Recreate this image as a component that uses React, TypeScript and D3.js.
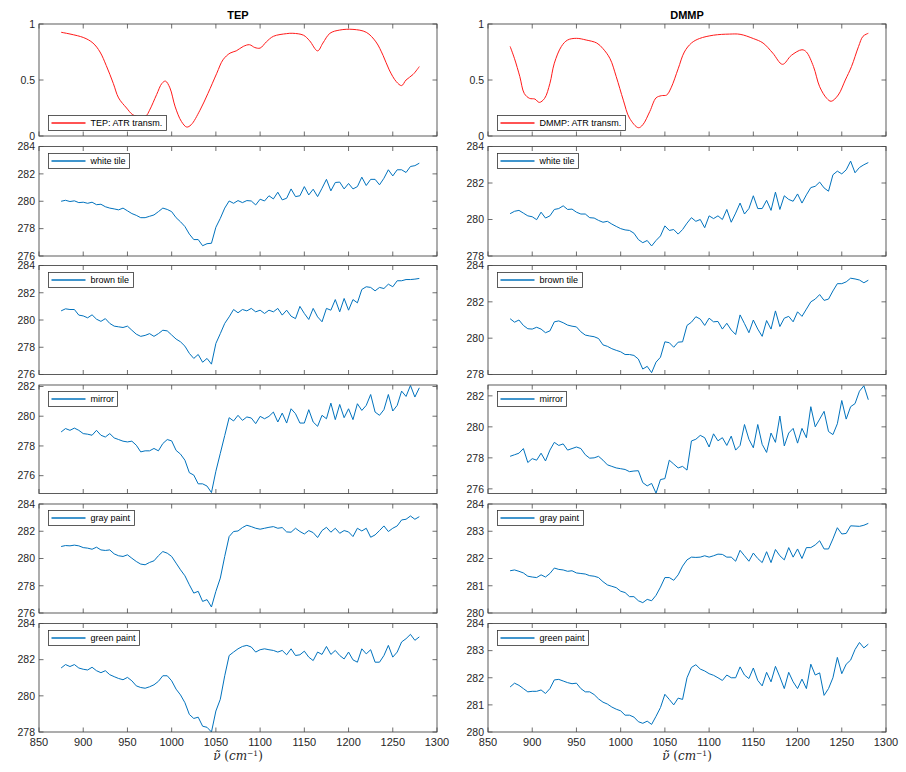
import React from 'react';
import * as d3 from 'd3';

// ---------- DATA ----------
const wavenumbers = d3.range(875, 1281, 5);

const tepAtrX = [875, 900, 911, 919, 926, 934, 940, 949, 956, 964, 971, 975, 983, 989, 993, 998, 1004, 1011, 1017, 1022, 1032, 1041, 1051, 1058, 1066, 1073, 1081, 1088, 1094, 1100, 1107, 1115, 1130, 1137, 1149, 1156, 1165, 1171, 1179, 1190, 1205, 1220, 1231, 1239, 1246, 1254, 1260, 1265, 1273, 1280];
const tepAtrY = [0.926, 0.88, 0.83, 0.75, 0.63, 0.47, 0.34, 0.25, 0.19, 0.17, 0.18, 0.23, 0.37, 0.47, 0.49, 0.43, 0.26, 0.13, 0.08, 0.1, 0.23, 0.38, 0.56, 0.68, 0.74, 0.76, 0.8, 0.815, 0.79, 0.785, 0.84, 0.89, 0.914, 0.917, 0.9, 0.85, 0.76, 0.83, 0.917, 0.946, 0.952, 0.926, 0.84, 0.72, 0.59, 0.485, 0.45, 0.5, 0.55, 0.62];

const dmmpAtrX = [875, 880, 886, 891, 897, 903, 908, 914, 920, 925, 933, 940, 950, 961, 973, 980, 988, 995, 1003, 1010, 1020, 1025, 1033, 1040, 1046, 1052, 1057, 1065, 1072, 1080, 1089, 1105, 1123, 1135, 1150, 1161, 1172, 1183, 1193, 1205, 1210, 1218, 1225, 1233, 1238, 1246, 1254, 1261, 1269, 1274, 1280];
const dmmpAtrY = [0.8, 0.69, 0.53, 0.38, 0.336, 0.33, 0.3, 0.336, 0.47, 0.65, 0.8, 0.857, 0.872, 0.857, 0.83, 0.78, 0.69, 0.53, 0.32, 0.16, 0.074, 0.1, 0.22, 0.34, 0.36, 0.366, 0.43, 0.6, 0.75, 0.83, 0.87, 0.9, 0.91, 0.908, 0.87, 0.83, 0.74, 0.64, 0.72, 0.77, 0.75, 0.62, 0.44, 0.336, 0.31, 0.366, 0.5, 0.62, 0.8, 0.89, 0.917];

const tepWhite = [280.0, 280.07, 279.98, 280.03, 279.9, 279.93, 279.85, 279.93, 279.75, 279.78,
  279.6, 279.5, 279.44, 279.37, 279.5, 279.3, 279.1, 278.97, 278.8, 278.8,
  278.9, 279.0, 279.24, 279.5, 279.4, 279.24, 278.8, 278.5, 278.15, 277.6,
  277.2, 277.2, 276.75, 276.9, 276.93, 278.1, 278.75, 279.5, 280.02, 279.85,
  280.05, 279.9, 280.05, 280.02, 279.73, 280.15, 280.02, 280.4, 280.17, 280.66,
  280.1, 280.22, 280.9, 280.34, 280.4, 281.07, 280.46, 280.88, 280.34, 280.95,
  281.6, 280.76, 281.37, 281.4, 280.9, 281.3, 280.9, 281.07, 281.76, 281.15,
  281.6, 281.6, 281.2, 281.68, 282.3, 281.85, 282.3, 282.3, 282.1, 282.54,
  282.6, 282.78];
const tepBrown = [280.67, 280.82, 280.77, 280.77, 280.36, 280.3, 280.16, 280.38, 280.06, 279.9,
  280.1, 279.75, 279.55, 279.5, 279.45, 279.55, 279.25, 278.96, 278.8, 278.87,
  279.0, 278.8, 279.0, 279.25, 279.2, 278.9, 278.6, 278.4, 278.08, 277.55,
  277.18, 277.47, 276.9, 277.18, 276.76, 278.28, 279.0, 279.75, 280.23, 280.77,
  280.53, 280.77, 280.67, 280.85, 280.6, 280.72, 280.48, 280.72, 280.6, 280.85,
  280.36, 280.72, 280.28, 280.1, 281.0, 280.48, 280.04, 280.85, 280.23, 279.87,
  280.85, 280.72, 281.5, 280.6, 281.58, 280.72, 281.5, 281.26, 282.24, 282.44,
  282.39, 282.14, 282.39, 282.31, 282.63, 282.44, 282.88, 282.88, 282.97, 282.97,
  283.0, 283.05];
const tepMirror = [278.94, 279.17, 279.05, 279.2, 279.05, 278.83, 278.79, 278.72, 279.05, 278.72,
  278.6, 278.83, 278.54, 278.43, 278.32, 278.27, 278.32, 278.05, 277.6, 277.67,
  277.67, 277.83, 277.67, 278.16, 278.43, 278.34, 277.7, 277.45, 277.04, 276.2,
  276.04, 275.45, 275.45, 275.3, 274.86, 276.3, 277.5, 278.7, 279.9, 279.68,
  280.06, 279.72, 279.95, 279.88, 279.5, 279.99, 279.83, 279.99, 280.28, 279.61,
  280.21, 279.54, 280.5, 280.17, 279.54, 279.54, 280.44, 279.61, 279.32, 280.06,
  279.83, 280.88, 279.77, 280.79, 279.9, 280.5, 279.77, 280.84, 280.39, 280.73,
  281.46, 280.28, 280.06, 280.44, 281.46, 280.35, 280.73, 281.69, 281.33, 282.07,
  281.29, 281.91];
const tepGray = [280.88, 280.95, 280.93, 280.98, 280.93, 280.8, 280.76, 280.68, 280.83, 280.63,
  280.59, 280.63, 280.34, 280.2, 280.15, 280.27, 280.02, 279.78, 279.59, 279.54,
  279.71, 279.83, 280.2, 280.51, 280.39, 280.15, 279.66, 279.17, 278.73, 278.07,
  277.46, 277.59, 276.85, 276.98, 276.44, 277.59, 278.56, 280.15, 281.61, 281.98,
  282.02, 282.27, 282.44, 282.34, 282.22, 282.15, 282.22, 282.29, 282.34, 282.22,
  282.27, 281.95, 281.93, 282.22, 281.98, 281.8, 282.05, 281.9, 281.54, 282.05,
  282.29, 281.93, 282.22, 281.85, 282.05, 281.95, 281.61, 282.22, 282.02, 282.22,
  281.56, 281.73, 282.05, 282.39, 281.98, 282.22, 282.39, 282.83, 282.88, 283.12,
  282.88, 283.07];
const tepGreen = [281.54, 281.73, 281.62, 281.73, 281.54, 281.47, 281.43, 281.58, 281.39, 281.28,
  281.39, 281.17, 281.06, 280.96, 280.89, 281.02, 280.83, 280.55, 280.46, 280.42,
  280.5, 280.61, 280.8, 281.11, 281.11, 280.83, 280.37, 280.05, 279.62, 278.97,
  278.75, 278.82, 278.32, 278.26, 278.0, 279.16, 279.81, 281.11, 282.23, 282.42,
  282.6, 282.73, 282.79, 282.7, 282.42, 282.55, 282.6, 282.55, 282.51, 282.42,
  282.51, 282.27, 282.6, 282.23, 282.27, 282.47, 282.14, 281.95, 282.42, 282.29,
  282.73, 282.29, 282.51, 282.23, 282.04, 282.42, 281.99, 281.86, 282.6, 282.32,
  282.55, 281.86, 281.86, 282.23, 282.79, 282.14, 282.42, 282.98, 283.16, 283.4,
  283.07, 283.26];

const dmmpWhite = [280.32, 280.45, 280.5, 280.35, 280.2, 280.15, 279.99, 280.4, 280.08, 280.2,
  280.55, 280.6, 280.75, 280.55, 280.57, 280.4, 280.3, 280.3, 280.1, 280.08,
  279.95, 279.85, 279.9, 279.75, 279.62, 279.5, 279.43, 279.4, 279.25, 278.9,
  278.73, 278.85, 278.55, 278.85, 279.1, 279.65, 279.4, 279.45, 279.2, 279.45,
  279.8, 280.1, 279.9, 280.0, 279.55, 280.2, 280.05, 280.2, 280.0, 280.55,
  279.85, 280.35, 280.9, 280.3, 280.6, 281.3, 280.6, 280.6, 281.05, 280.5,
  281.5, 280.55, 281.3, 281.1, 281.0, 281.4, 280.9, 281.35, 281.75, 281.82,
  282.05, 281.73, 281.55, 282.45, 282.65, 282.5, 282.72, 283.2, 282.56, 282.85,
  283.0, 283.12];
const dmmpBrown = [281.07, 280.88, 281.0, 280.7, 280.52, 280.5, 280.6, 280.5, 280.3, 280.4,
  280.9, 280.95, 280.85, 280.72, 280.66, 280.62, 280.35, 280.17, 280.12, 280.08,
  279.98, 279.63, 279.55, 279.42, 279.33, 279.25, 279.1, 279.1, 279.05, 278.85,
  278.3, 278.45, 278.1, 278.68, 278.95, 279.8, 279.75, 279.5, 279.78, 279.8,
  280.7, 280.88, 281.18, 281.05, 280.7, 281.1, 280.9, 280.92, 280.5, 280.82,
  280.45, 280.2, 281.28, 280.8, 280.3, 281.0, 280.5, 280.1, 280.97, 280.5,
  281.5, 280.64, 281.1, 281.2, 280.9, 281.45, 281.2, 281.6, 282.0, 282.15,
  282.4, 282.08, 282.15, 282.6, 283.0, 283.0, 283.1, 283.3, 283.26, 283.2,
  283.05, 283.19];
const dmmpMirror = [278.1, 278.2, 278.3, 278.6, 277.7, 277.95, 277.85, 278.3, 277.8, 278.5,
  279.0, 278.8, 278.9, 278.5, 278.6, 278.7, 278.6, 278.2, 277.98, 278.0,
  278.1, 277.85, 277.55, 277.45, 277.35, 277.3, 277.25, 277.11, 277.15, 277.17,
  276.4, 276.19, 276.35, 275.72, 276.6, 276.66, 277.85, 277.6, 277.35, 277.45,
  277.21, 279.09, 279.2, 279.45, 279.3, 278.7, 279.55, 279.1, 279.3, 278.8,
  279.4, 278.5, 278.8, 280.15, 279.2, 278.65, 280.15, 278.87, 278.35, 279.6,
  279.0, 280.7, 278.77, 279.6, 279.9, 278.95, 279.9, 279.3, 281.3, 280.0,
  280.5, 281.0, 279.7, 279.5, 280.2, 281.7, 280.5, 281.3, 281.5, 282.3,
  282.65, 281.75];
const dmmpGray = [281.55, 281.58, 281.53, 281.47, 281.35, 281.32, 281.3, 281.4, 281.32, 281.45,
  281.65, 281.6, 281.58, 281.53, 281.55, 281.47, 281.45, 281.43, 281.37, 281.35,
  281.3, 281.15, 281.03, 280.98, 280.93, 280.8, 280.75, 280.6, 280.6, 280.45,
  280.38, 280.5, 280.45, 280.65, 280.95, 281.3, 281.3, 281.2, 281.4, 281.72,
  281.95, 282.05, 282.04, 282.05, 282.1, 282.05, 282.1, 282.16, 282.15, 282.05,
  282.05, 281.9, 282.3, 282.1, 281.9, 282.2, 282.0, 281.85, 282.25, 281.85,
  282.33, 282.1, 281.95, 282.4, 282.05, 282.35, 282.0, 282.4, 282.4, 282.5,
  282.65, 282.35, 282.35, 282.72, 283.13, 282.9, 282.92, 283.2, 283.19, 283.18,
  283.22, 283.29];
const dmmpGreen = [281.66, 281.8, 281.72, 281.6, 281.48, 281.5, 281.5, 281.55, 281.42, 281.6,
  281.92, 281.94, 281.88, 281.82, 281.78, 281.8, 281.6, 281.48, 281.48, 281.38,
  281.22, 281.1, 281.03, 280.92, 280.84, 280.78, 280.62, 280.62, 280.55, 280.38,
  280.32, 280.4, 280.28, 280.58, 280.9, 281.39, 281.2, 281.0, 281.25, 281.2,
  282.0, 282.38, 282.48, 282.32, 282.25, 282.15, 282.09, 282.0, 281.9, 282.1,
  282.0, 282.0, 282.4, 282.1, 281.97, 282.36, 281.9, 281.7, 282.2, 281.85,
  282.42, 282.03, 281.6, 282.2, 281.85, 281.6, 281.95, 281.6, 282.5, 282.1,
  282.18, 281.35, 281.6, 282.0, 282.75, 282.15, 282.5, 282.65, 283.04, 283.3,
  283.1, 283.24];

const columnTitles = ['TEP', 'DMMP'];
const xTicks = [850, 900, 950, 1000, 1050, 1100, 1150, 1200, 1250, 1300];
const sampleLabels = ['white tile', 'brown tile', 'mirror', 'gray paint', 'green paint'];
const tepSeries = [tepWhite, tepBrown, tepMirror, tepGray, tepGreen];
const dmmpSeries = [dmmpWhite, dmmpBrown, dmmpMirror, dmmpGray, dmmpGreen];
const tepDomains: [number, number][] = [[0, 1], [276, 284], [276, 284], [274.8, 282.1], [276, 284], [278, 284]];
const dmmpDomains: [number, number][] = [[0, 1], [278, 284], [278, 284], [275.7, 282.7], [280, 284], [280, 284]];
const tepTicks = [[0, 0.5, 1], [276, 278, 280, 282, 284], [276, 278, 280, 282, 284], [276, 278, 280, 282], [276, 278, 280, 282, 284], [278, 280, 282, 284]];
const dmmpTicks = [[0, 0.5, 1], [278, 280, 282, 284], [278, 280, 282, 284], [276, 278, 280, 282], [280, 281, 282, 283, 284], [280, 281, 282, 283, 284]];

// ---------- LAYOUT ----------
const W = 906, H = 772;
const colX = [39, 488];
const colW = 398;
const rowTop = [24, 146.5, 265.5, 385, 504, 623.5];
const rowBot = [136, 256, 374.5, 493.5, 613, 732];
const BLUE = '#0072BD';
const RED = '#ff1a1a';
const AXIS = '#4a4a4a';
const TXT = '#262626';
const SANS = '"Liberation Sans", Arial, sans-serif';

function textWidth(s: string, font: string) {
  if (typeof document === 'undefined') return s.length * 5;
  const c = document.createElement('canvas').getContext('2d');
  if (!c) return s.length * 5;
  c.font = font;
  return c.measureText(s).width;
}

type PanelProps = {
  col: number; row: number; domain: [number, number]; ticks: number[];
  points: [number, number][]; color: string; label: string; smooth: boolean; showX: boolean;
};

function Panel({ col, row, domain, ticks, points, color, label, smooth, showX }: PanelProps) {
  const x0 = colX[col], x1 = colX[col] + colW;
  const y0 = rowTop[row], y1 = rowBot[row];
  const x = d3.scaleLinear().domain([850, 1300]).range([x0, x1]);
  const y = d3.scaleLinear().domain(domain).range([y1, y0]);
  const line = d3.line<[number, number]>().x(d => x(d[0])).y(d => y(d[1]));
  if (smooth) line.curve(d3.curveCatmullRom.alpha(0.5));
  const clipId = `clip-${col}-${row}`;
  const tl = 4.5;
  const fontLeg = `9px ${SANS}`;
  const lw = Math.round(textWidth(label, fontLeg) + 46);
  const lh = 15;
  const lx = x0 + 9.5;
  const ly = row === 0 ? Math.round(y1 - 6 - lh) + 0.5 : Math.round(y0 + 6) + 0.5;
  const lineY = ly + lh / 2;
  const fmt = (v: number) => (row === 0 ? (v === 0.5 ? '0.5' : String(v)) : String(v));
  return (
    <g>
      <defs>
        <clipPath id={clipId}><rect x={x0} y={y0} width={x1 - x0} height={y1 - y0} /></clipPath>
      </defs>
      <rect x={x0} y={y0} width={x1 - x0} height={y1 - y0} fill="#fff" />
      <path d={line(points) || ''} fill="none" stroke={color} strokeWidth={1} clipPath={`url(#${clipId})`} />
      {xTicks.map(t => (
        <g key={'xt' + t}>
          <line x1={x(t)} x2={x(t)} y1={y1} y2={y1 - tl} stroke={AXIS} strokeWidth={0.8} />
          <line x1={x(t)} x2={x(t)} y1={y0} y2={y0 + tl} stroke={AXIS} strokeWidth={0.8} />
          {showX && (
            <text x={x(t)} y={y1 + 13.5} textAnchor="middle" fontSize={11} fill={TXT}
              fontFamily={SANS}>{t}</text>
          )}
        </g>
      ))}
      {ticks.map(t => (
        <g key={'yt' + t}>
          <line x1={x0} x2={x0 + tl} y1={y(t)} y2={y(t)} stroke={AXIS} strokeWidth={0.8} />
          <line x1={x1} x2={x1 - tl} y1={y(t)} y2={y(t)} stroke={AXIS} strokeWidth={0.8} />
          <text x={x0 - 4} y={y(t) + 3.8} textAnchor="end" fontSize={10.5} fill={TXT}
            fontFamily={SANS}>{fmt(t)}</text>
        </g>
      ))}
      <rect x={x0} y={y0} width={x1 - x0} height={y1 - y0} fill="none" stroke={AXIS} strokeWidth={0.9} />
      <g>
        <rect x={lx} y={ly} width={lw} height={lh} fill="#fff" stroke="#333" strokeWidth={0.8} />
        <line x1={lx + 3} x2={lx + 37} y1={lineY} y2={lineY} stroke={color} strokeWidth={1.3} />
        <text x={lx + 42} y={ly + lh / 2 + 3.2} fontSize={9} fill="#000"
          fontFamily={SANS}>{label}</text>
      </g>
    </g>
  );
}

export default function App() {
  const panels: PanelProps[] = [];
  [0, 1].forEach(col => {
    const isTep = col === 0;
    const atrX = isTep ? tepAtrX : dmmpAtrX;
    const atrY = isTep ? tepAtrY : dmmpAtrY;
    panels.push({
      col, row: 0,
      domain: (isTep ? tepDomains : dmmpDomains)[0],
      ticks: (isTep ? tepTicks : dmmpTicks)[0],
      points: atrX.map((v, i) => [v, atrY[i]] as [number, number]),
      color: RED, label: `${columnTitles[col]}: ATR transm.`, smooth: true, showX: false,
    });
    const series = isTep ? tepSeries : dmmpSeries;
    series.forEach((s, k) => {
      panels.push({
        col, row: k + 1,
        domain: (isTep ? tepDomains : dmmpDomains)[k + 1],
        ticks: (isTep ? tepTicks : dmmpTicks)[k + 1],
        points: wavenumbers.map((v, i) => [v, s[i]] as [number, number]),
        color: BLUE, label: sampleLabels[k], smooth: false, showX: k === 4,
      });
    });
  });

  return (
    <svg width={W} height={H} style={{ position: 'absolute', left: 0, top: 0, background: '#fff' }}>
      <rect x={0} y={0} width={W} height={H} fill="#fff" />
      {panels.map(p => <Panel key={`${p.col}-${p.row}`} {...p} />)}
      {[0, 1].map(col => (
        <g key={'title' + col}>
          <text x={colX[col] + colW / 2} y={19} textAnchor="middle" fontSize={11} fontWeight="bold" fill="#000"
            fontFamily={SANS}>{columnTitles[col]}</text>
          <text x={colX[col] + colW / 2} y={760} textAnchor="middle" fontSize={12} fill={TXT}
            fontFamily='"DejaVu Serif", "Liberation Serif", serif'>
            <tspan fontStyle="italic">ν̃</tspan>
            <tspan> (</tspan>
            <tspan fontStyle="italic">cm</tspan>
            <tspan fontSize={7.5} dy={-4.5}>−1</tspan>
            <tspan dy={4.5}>)</tspan>
          </text>
        </g>
      ))}
    </svg>
  );
}
